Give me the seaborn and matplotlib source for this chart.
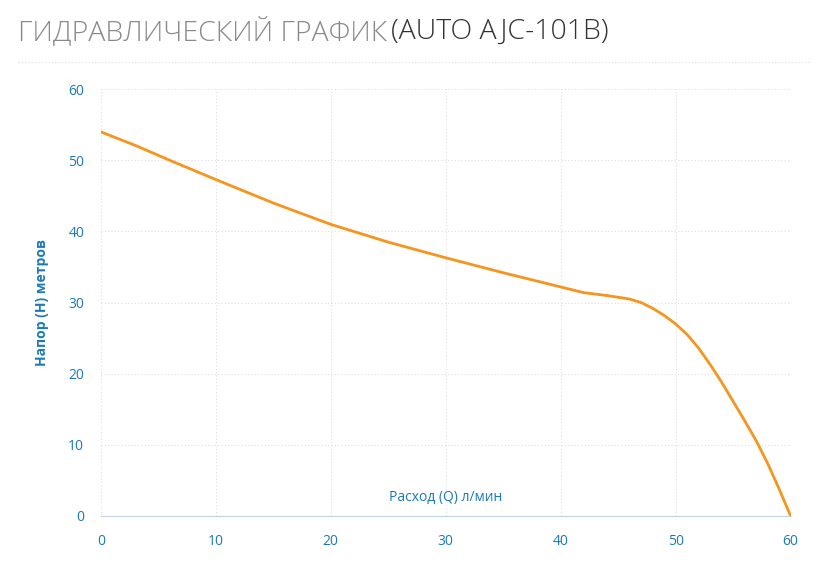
import matplotlib
matplotlib.use("Agg")
import matplotlib.pyplot as plt
import seaborn as sns
import pandas as pd

# flow (l/min) vs head (m)
flow = [0, 3, 6, 10, 15, 20, 25, 30, 35, 38, 40, 42, 44, 46, 47, 48, 49, 50, 51, 52, 53, 54, 55, 56, 57, 58, 59, 60]
head = [54, 52.1, 50.0, 47.3, 44.0, 41.0, 38.5, 36.3, 34.2, 33.0, 32.2, 31.4, 31.0, 30.5, 30.0, 29.2, 28.2, 27.0, 25.5, 23.6, 21.3, 18.8, 16.1, 13.4, 10.6, 7.4, 3.8, 0]
xticks = [0, 10, 20, 30, 40, 50, 60]
yticks = [0, 10, 20, 30, 40, 50, 60]

df = pd.DataFrame({"flow": flow, "head": head})

sns.set_style("white")
plt.rcParams['font.family'] = ['Open Sans', 'DejaVu Sans']

fig = plt.figure(figsize=(8.27, 5.87), dpi=100)
ax = fig.add_axes([0.122, 0.121, 0.834, 0.727])

sns.lineplot(data=df, x="flow", y="head", ax=ax, color="#f7941d", linewidth=2)

ax.set_xlim(0, 60)
ax.set_ylim(0, 60)
ax.set_xticks(xticks)
ax.set_yticks(yticks)
ax.grid(True, color="#dddddd", linestyle=(0, (1, 2)), linewidth=0.8)
for s in ["top", "right", "left"]:
    ax.spines[s].set_visible(False)
ax.spines["bottom"].set_color("#c5d3e6")
ax.tick_params(axis="both", colors="#1a7ab8", labelsize=10, length=0, pad=12)
ax.tick_params(axis="x", length=5, color="#c5d3e6", pad=8)

ax.set_xlabel("")
ax.set_ylabel("Напор (H) метров", color="#1a7ab8", fontsize=10, fontweight="bold", labelpad=14)
ax.text(30, 1.5, "Расход (Q) л/мин", color="#1a7ab8", fontsize=10, ha="center", va="bottom")

fig.text(0.022, 0.945, "ГИДРАВЛИЧЕСКИЙ ГРАФИК", color="#8a8a8a", fontsize=20.5, va="center", fontweight="light")
fig.text(0.473, 0.945, "(AUTO AJC-101B)", color="#333333", fontsize=20.5, va="center", fontweight="light")
fig.add_artist(plt.Line2D([0.022, 0.98], [0.895, 0.895], color="#dddddd", linestyle=(0, (1, 2)), linewidth=0.8))

fig.savefig("out.png", dpi=100)
